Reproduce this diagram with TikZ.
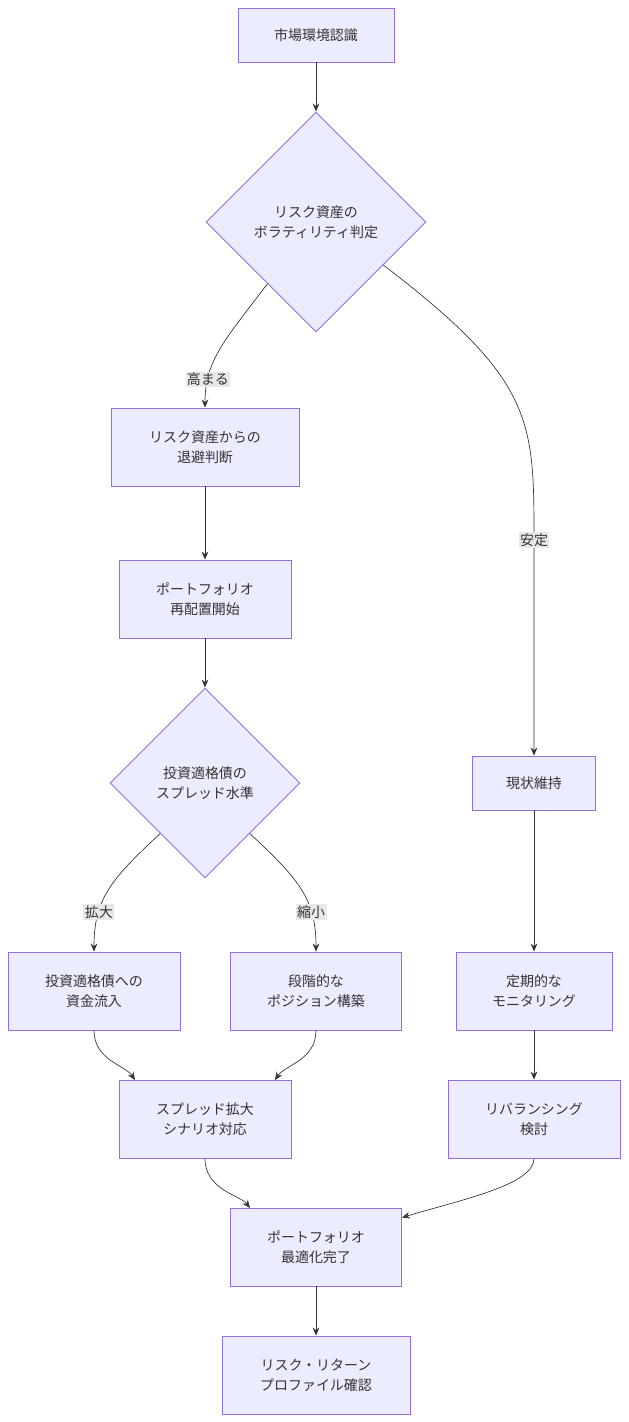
\documentclass[tikz,border=0pt]{standalone}
\usepackage{fontspec}
\setmainfont{Noto Sans CJK JP}
\usetikzlibrary{shapes.geometric,arrows.meta,calc}
\definecolor{boxfill}{HTML}{ECECFF}
\definecolor{boxline}{HTML}{9370DB}
\definecolor{ink}{HTML}{333333}
\definecolor{lblbg}{HTML}{E8E8E8}
\def\px{0.0264cm}
\tikzset{
  box/.style={draw=boxline, fill=boxfill, line width=0.7pt, align=center, text=ink, inner sep=0pt},
  dia/.style={draw=boxline, fill=boxfill, line width=0.7pt, diamond, aspect=1, align=center, text=ink, inner sep=0pt, minimum width=220*\px, minimum height=220*\px},
  flow/.style={draw=ink, line width=0.5pt, -{Stealth[length=6pt,width=5pt]}},
  lbl/.style={fill=lblbg, text=ink, inner sep=1pt}
}
\begin{document}
\begin{tikzpicture}[x=\px, y=-\px, font=\fontsize{10.5}{15}\selectfont]
\useasboundingbox (0,0) rectangle (628,1422);

% main column
\node[box, minimum width=156*\px, minimum height=54*\px] (env) at (316,35) {市場環境認識};
\node[dia] (vol) at (316,222) {リスク資産の\\ボラティリティ判定};
\node[box, minimum width=188*\px, minimum height=78*\px] (exit) at (205,447) {リスク資産からの\\退避判断};
\node[box, minimum width=172*\px, minimum height=78*\px] (realloc) at (205,599) {ポートフォリオ\\再配置開始};
\node[dia, minimum width=190*\px, minimum height=190*\px] (spread) at (205,783) {投資適格債の\\スプレッド水準};
\node[box, minimum width=172*\px, minimum height=78*\px] (inflow) at (94,991) {投資適格債への\\資金流入};
\node[box, minimum width=171*\px, minimum height=78*\px] (step) at (316,991) {段階的な\\ポジション構築};
\node[box, minimum width=172*\px, minimum height=78*\px] (scen) at (205,1119) {スプレッド拡大\\シナリオ対応};
\node[box, minimum width=171*\px, minimum height=78*\px] (opt) at (316,1247) {ポートフォリオ\\最適化完了};
\node[box, minimum width=188*\px, minimum height=78*\px] (prof) at (316,1375) {リスク・リターン\\プロファイル確認};

% right column
\node[box, minimum width=123*\px, minimum height=54*\px] (keep) at (534,783) {現状維持};
\node[box, minimum width=156*\px, minimum height=78*\px] (mon) at (534,991) {定期的な\\モニタリング};
\node[box, minimum width=172*\px, minimum height=78*\px] (rebal) at (534,1119) {リバランシング\\検討};

\draw[flow] (env) -- (vol);
\draw[flow] ($(vol.west)!0.56!(vol.south)$) .. controls (225,340) and (205,360) .. node[lbl, pos=0.78] {高まる} (exit.north);
\draw[flow] ($(vol.east)!0.39!(vol.south)$) .. controls (534,380) and (534,420) .. (534,540) -- node[lbl, pos=0.0] {安定} (keep.north);
\draw[flow] (exit) -- (realloc);
\draw[flow] (realloc) -- (spread);
\draw[flow] ($(spread.west)!0.53!(spread.south)$) .. controls (110,880) and (94,900) .. node[lbl, pos=0.7] {拡大} (inflow.north);
\draw[flow] ($(spread.east)!0.53!(spread.south)$) .. controls (300,880) and (316,900) .. node[lbl, pos=0.7] {縮小} (step.north);
\draw[flow] (inflow.south) .. controls (94,1060) and (125,1065) .. (135,1080);
\draw[flow] (step.south) .. controls (316,1060) and (285,1065) .. (275,1080);
\draw[flow] (scen.south) .. controls (205,1190) and (240,1195) .. (250,1208);
\draw[flow] (keep) -- (mon);
\draw[flow] (mon) -- (rebal);
\draw[flow] (rebal.south) .. controls (534,1185) and (460,1200) .. ($(opt.north east)+(0,10)$);
\draw[flow] (opt) -- (prof);
\end{tikzpicture}
\end{document}
